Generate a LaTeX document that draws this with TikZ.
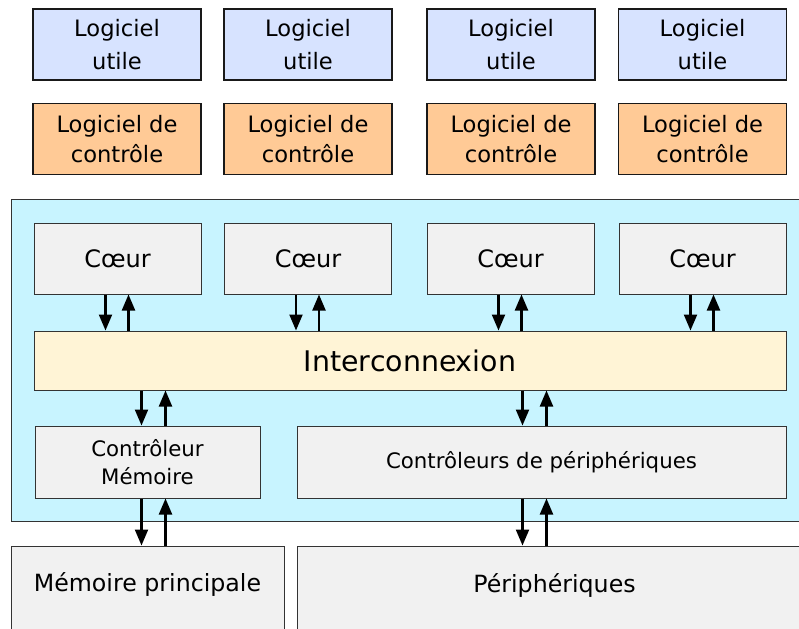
\documentclass[tikz,border=0pt]{standalone}
\usepackage{fontspec}
\setmainfont{DejaVu Sans}
\usetikzlibrary{arrows.meta,calc}
\definecolor{cblue}{HTML}{D7E3FF}
\definecolor{corange}{HTML}{FFCA96}
\definecolor{ccyan}{HTML}{C8F4FF}
\definecolor{cgray}{HTML}{F1F1F1}
\definecolor{cyellow}{HTML}{FFF4D6}
\definecolor{cedge}{HTML}{333333}
\tikzset{
  topbox/.style={draw=black!90,line width=1.3pt,rectangle,inner sep=0pt,align=center,
    minimum width=168pt,minimum height=71pt,font=\fontsize{22.6}{33}\selectfont},
  ubox/.style={topbox,fill=cblue},
  obox/.style={topbox,fill=corange,font=\fontsize{22.6}{30}\selectfont},
  gbox/.style={draw=cedge,line width=1pt,fill=cgray,rectangle,inner sep=0pt,align=center},
  corebox/.style={gbox,minimum width=167pt,minimum height=71pt,font=\fontsize{24}{28}\selectfont},
  ctrlbox/.style={gbox,minimum height=72pt,font=\fontsize{21.3}{28}\selectfont},
  arr/.style={line width=2.2pt,-{Triangle[length=16pt,width=13pt]}},
  lbl/.style={inner sep=0pt,font=\fontsize{23.7}{28}\selectfont}
}
\begin{document}
\begin{tikzpicture}[x=1pt,y=-1pt]
\clip (0,0) rectangle (799,628);
\useasboundingbox (0,0) rectangle (799,628);
\fill[white] (0,0) rectangle (799,628);
% software layers
\node[ubox] (u1) at (117,44.5) {Logiciel\\utile};
\node[ubox] (u2) at (308,44.5) {Logiciel\\utile};
\node[ubox] (u3) at (511,44.5) {Logiciel\\utile};
\node[ubox] (u4) at (702.5,44.5) {Logiciel\\utile};
\node[obox] (o1) at (117,139) {Logiciel de\\contrôle};
\node[obox] (o2) at (308,139) {Logiciel de\\contrôle};
\node[obox] (o3) at (511,139) {Logiciel de\\contrôle};
\node[obox] (o4) at (702.5,139) {Logiciel de\\contrôle};
% chip container
\node[draw=cedge,line width=1pt,fill=ccyan,rectangle,inner sep=0pt,
  minimum width=788pt,minimum height=321pt] (chip) at (405,360.5) {};
% cores
\node[corebox] (c1) at (117.5,258.5) {Cœur};
\node[corebox] (c2) at (308,258.5) {Cœur};
\node[corebox] (c3) at (510.5,258.5) {Cœur};
\node[corebox] (c4) at (702.5,258.5) {Cœur};
% interconnect
\node[draw=cedge,line width=1pt,fill=cyellow,rectangle,inner sep=0pt,
  minimum width=752pt,minimum height=59pt,font=\fontsize{28.4}{32}\selectfont] (ic) at (410,360.5) {Interconnexion};
% controllers
\node[ctrlbox,minimum width=225pt] (cm) at (147.5,462) {Contrôleur\\Mémoire};
\node[ctrlbox,minimum width=489pt] (cp) at (541.5,462) {Contrôleurs de périphériques};
% external
\node[gbox,minimum width=273pt,minimum height=110pt] (mp) at (147.5,601) {};
\node[lbl] (mpt) at ([yshift=-39pt]mp.north) {Mémoire principale};
\node[gbox,minimum width=515pt,minimum height=110pt] (pe) at (554.5,601) {};
\node[lbl] (pet) at ([yshift=-40pt]pe.north) {Périphériques};
% core <-> interconnect arrows
\foreach \c in {c1,c2,c3,c4}{
  \draw[arr] ([xshift=72pt]\c.south west) -- ([xshift=72pt]\c.south west |- ic.north);
  \draw[arr] ([xshift=95pt]\c.south west |- ic.north) -- ([xshift=95pt]\c.south west);
}
% interconnect <-> controllers
\draw[arr] ([xshift=107pt]cm.north west |- ic.south) -- ([xshift=107pt]cm.north west);
\draw[arr] ([xshift=131pt]cm.north west) -- ([xshift=131pt]cm.north west |- ic.south);
\draw[arr] ([xshift=226pt]cp.north west |- ic.south) -- ([xshift=226pt]cp.north west);
\draw[arr] ([xshift=250pt]cp.north west) -- ([xshift=250pt]cp.north west |- ic.south);
% controllers <-> external
\draw[arr] ([xshift=107pt]cm.south west) -- ([xshift=107pt]cm.south west |- mp.north);
\draw[arr] ([xshift=131pt]cm.south west |- mp.north) -- ([xshift=131pt]cm.south west);
\draw[arr] ([xshift=226pt]cp.south west) -- ([xshift=226pt]cp.south west |- pe.north);
\draw[arr] ([xshift=250pt]cp.south west |- pe.north) -- ([xshift=250pt]cp.south west);
\end{tikzpicture}
\end{document}
